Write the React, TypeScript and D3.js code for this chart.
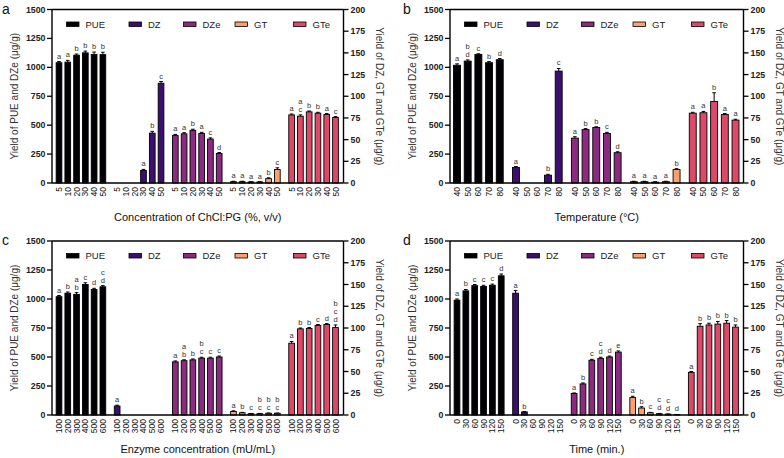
import React from "react";
import * as d3 from "d3";

const SERIES = ["PUE", "DZ", "DZe", "GT", "GTe"];
const COLORS = ["#000004", "#3b0f70", "#8c2981", "#fe9f6d", "#de4968"];
// which axis each series uses: left (PUE, DZe) or right (DZ, GT, GTe)
const AXIS = ["L", "R", "L", "R", "R"];

const leftTicks = [0, 250, 500, 750, 1000, 1250, 1500];
const rightTicks = [0, 25, 50, 75, 100, 125, 150, 175, 200];

// Panel a
const catsA = ["5", "10", "20", "30", "40", "50"];
const pueA = [1040, 1045, 1105, 1125, 1112, 1110];
const pueErrA = [10, 15, 10, 15, 20, 20];
const dzA = [0, 0, 0, 14.5, 57.5, 115];
const dzErrA = [0, 0, 0, 1.2, 2, 2];
const dzeA = [410, 425, 455, 428, 380, 255];
const dzeErrA = [10, 10, 10, 10, 10, 8];
const gtA = [1.5, 1.5, 1.2, 1.2, 5, 15.5];
const gtErrA = [0.5, 0.5, 0.3, 0.3, 1, 2];
const gteA = [78.5, 77, 82, 80.5, 79, 75.5];
const gteErrA = [1, 1.5, 1, 1, 1, 1];
const pueLetA = ["a", "a", "b", "b", "b", "b"];
const dzLetA = ["", "", "", "a", "b", "c"];
const dzeLetA = ["a", "a", "b", "a", "c", "d"];
const gtLetA = ["a", "a", "a", "a", "b", "c"];
const gteLetA = ["a", "ac", "b", "b", "a", "c"];

// Panel b
const catsB = ["40", "50", "60", "70", "80"];
const pueB = [1018, 1054, 1112, 1040, 1066];
const pueErrB = [12, 10, 5, 10, 10];
const dzB = [18, 0, 0, 9, 129];
const dzErrB = [1, 0, 0, 1, 3];
const dzeB = [388, 462, 480, 428, 262];
const dzeErrB = [12, 8, 6, 10, 8];
const gtB = [1.5, 1.5, 1, 1.5, 15.5];
const gtErrB = [0.5, 0.5, 0.5, 0.5, 1];
const gteB = [80.5, 81, 94, 79, 72.5];
const gteErrB = [1, 1.5, 10, 1, 1];
const pueLetB = ["a", "bd", "c", "b", "d"];
const dzLetB = ["a", "", "", "b", "c"];
const dzeLetB = ["a", "b", "b", "c", "d"];
const gtLetB = ["a", "a", "a", "a", "b"];
const gteLetB = ["a", "a", "b", "a", "a"];

// Panel c
const catsC = ["100", "200", "300", "400", "500", "600"];
const pueC = [1020, 1050, 1040, 1125, 1082, 1105];
const pueErrC = [10, 10, 15, 15, 10, 10];
const dzC = [10.3, 0, 0, 0, 0, 0];
const dzErrC = [1, 0, 0, 0, 0, 0];
const dzeC = [458, 468, 475, 490, 490, 500];
const dzeErrC = [8, 8, 8, 8, 8, 8];
const gtC = [4, 2.5, 1.5, 1.5, 2, 2];
const gtErrC = [0.8, 0.5, 0.3, 0.3, 0.3, 0.3];
const gteC = [82.5, 99, 99.5, 103, 104, 100.5];
const gteErrC = [2, 1, 1, 1, 1, 3];
const pueLetC = ["a", "b", "ab", "c", "d", "cd"];
const dzLetC = ["a", "", "", "", "", ""];
const dzeLetC = ["a", "ab", "b", "bc", "c", "c"];
const gtLetC = ["a", "b", "c", "bc", "bc", "bc"];
const gteLetC = ["a", "b", "b", "c", "d", "bcd"];

// Panel d
const catsD = ["0", "30", "60", "90", "120", "150"];
const pueD = [990, 1070, 1115, 1108, 1118, 1200];
const pueErrD = [10, 12, 10, 10, 10, 15];
const dzD = [140, 3.5, 0, 0, 0, 0];
const dzErrD = [3, 0.5, 0, 0, 0, 0];
const dzeD = [185, 268, 472, 488, 500, 542];
const dzeErrD = [5, 8, 8, 10, 8, 10];
const gtD = [20, 8, 2.5, 1.5, 1, 0.5];
const gtErrD = [1.5, 1.5, 0.5, 0.3, 0.2, 0.1];
const gteD = [49, 102, 103.5, 104.5, 105.5, 101];
const gteErrD = [1, 3, 2, 3, 3, 2.5];
const pueLetD = ["a", "b", "c", "c", "c", "d"];
const dzLetD = ["a", "b", "", "", "", ""];
const dzeLetD = ["a", "b", "c", "cd", "d", "e"];
const gtLetD = ["a", "b", "c", "cd", "cd", "d"];
const gteLetD = ["a", "b", "b", "b", "b", "b"];

const FONT = "'Liberation Sans', Arial, Helvetica, sans-serif";

type PanelProps = {
  label: string;
  xTitle: string;
  L: number;
  R: number;
  top: number;
  bottom: number;
  cats: string[];
  values: number[][];
  errors: number[][];
  letters: string[][];
};

const LEGEND_OFF = [14.5, 77, 131.5, 183, 241.5];

function Panel(p: PanelProps) {
  const { L, R, top, bottom, cats } = p;
  const yL = d3.scaleLinear().domain([0, 1500]).range([bottom, top]);
  const yR = d3.scaleLinear().domain([0, 200]).range([bottom, top]);
  const n = cats.length;
  const first = L + 7;
  const last = R - 8;
  const gap = 5.5;
  const s = (last - first - 4 * gap) / (5 * n - 1);
  const groupX = d3
    .scaleBand<string>()
    .domain(SERIES)
    .range([first - s / 2, last + s / 2])
    .paddingInner(gap / (n * s + gap))
    .paddingOuter(0);
  const inner = d3.scaleBand<string>().domain(cats).range([0, groupX.bandwidth()]);
  const bw = s * 0.65;
  const mid = (top + bottom) / 2;

  const bars: React.ReactNode[] = [];
  const labels: React.ReactNode[] = [];
  SERIES.forEach((ser, si) => {
    const y = AXIS[si] === "L" ? yL : yR;
    cats.forEach((c, ci) => {
      const cx = (groupX(ser) as number) + (inner(c) as number) + inner.bandwidth() / 2;
      const v = p.values[si][ci];
      const e = p.errors[si][ci];
      const yt = y(v);
      const ye = y(v + e);
      if (v > 0) {
        bars.push(
          <rect
            key={`b${si}-${ci}`}
            x={cx - bw / 2}
            y={yt}
            width={bw}
            height={bottom - yt}
            fill={COLORS[si]}
            stroke="#000"
            strokeWidth={0.9}
          />
        );
        if (e > 0) {
          bars.push(
            <g key={`e${si}-${ci}`} stroke="#000" strokeWidth={1}>
              <line x1={cx} x2={cx} y1={yt} y2={ye} />
              <line x1={cx - 1.8} x2={cx + 1.8} y1={ye} y2={ye} />
            </g>
          );
        }
      }
      const let_ = p.letters[si][ci];
      if (let_) {
        const chars = let_.split("");
        chars.forEach((ch, k) => {
          const yy = Math.min(ye, yt) - 3 - (chars.length - 1 - k) * 8;
          labels.push(
            <text
              key={`l${si}-${ci}-${k}`}
              x={cx}
              y={yy}
              textAnchor="middle"
              fontSize={7.5}
              fill="#333"
            >
              {ch}
            </text>
          );
        });
      }
      labels.push(
        <text
          key={`x${si}-${ci}`}
          transform={`translate(${cx},${bottom + 4}) rotate(-90)`}
          textAnchor="end"
          dominantBaseline="central"
          fontSize={8.5}
          fill="#111"
        >
          {c}
        </text>
      );
    });
  });

  return (
    <g fontFamily={FONT}>
      {bars}
      {labels}
      <g stroke="#000" strokeWidth={1.4} fill="none">
        <line x1={L} x2={R} y1={top} y2={top} />
        <line x1={L} x2={R} y1={bottom} y2={bottom} />
        <line x1={L} x2={L} y1={top} y2={bottom} />
        <line x1={R} x2={R} y1={top} y2={bottom} />
      </g>
      {leftTicks.map((t) => (
        <g key={`lt${t}`}>
          <line x1={L - 5} x2={L} y1={yL(t)} y2={yL(t)} stroke="#000" strokeWidth={1.3} />
          <text
            x={L - 6.5}
            y={yL(t)}
            textAnchor="end"
            dominantBaseline="central"
            fontSize={8.8}
            fontWeight="bold"
            fill="#222"
          >
            {t}
          </text>
        </g>
      ))}
      {rightTicks.map((t) => (
        <g key={`rt${t}`}>
          <line x1={R} x2={R + 5} y1={yR(t)} y2={yR(t)} stroke="#000" strokeWidth={1.3} />
          <text
            x={R + 7}
            y={yR(t)}
            textAnchor="start"
            dominantBaseline="central"
            fontSize={8.8}
            fontWeight="bold"
            fill="#222"
          >
            {t}
          </text>
        </g>
      ))}
      {SERIES.map((ser, si) => (
        <g key={`lg${si}`}>
          <rect
            x={L + LEGEND_OFF[si]}
            y={top + 12.5}
            width={12.5}
            height={4.5}
            fill={COLORS[si]}
            stroke="#000"
            strokeWidth={0.8}
          />
          <text
            x={L + LEGEND_OFF[si] + 19}
            y={top + 14.8}
            dominantBaseline="central"
            fontSize={9.5}
            fill="#222"
          >
            {ser}
          </text>
        </g>
      ))}
      <text
        transform={`translate(${L - 38},${mid}) rotate(-90)`}
        textAnchor="middle"
        dominantBaseline="central"
        fontSize={10}
        fill="#333"
      >
        Yield of PUE and DZe (μg/g)
      </text>
      <text
        transform={`translate(${R + 36},${mid}) rotate(90)`}
        textAnchor="middle"
        dominantBaseline="central"
        fontSize={10}
        fill="#333"
      >
        Yield of DZ, GT and GTe (μg/g)
      </text>
      <text x={(L + R) / 2} y={bottom + 37.5} textAnchor="middle" fontSize={11} fill="#111">
        {p.xTitle}
      </text>
    </g>
  );
}

export default function App() {
  return (
    <svg
      width={784}
      height={458}
      style={{ position: "absolute", left: 0, top: 0, background: "#fff" }}
    >
      <rect width={784} height={458} fill="#fff" />
      <Panel
        label="a"
        xTitle="Concentration of ChCl:PG (%, v/v)"
        L={52}
        R={343.5}
        top={9.5}
        bottom={183}
        cats={catsA}
        values={[pueA, dzA, dzeA, gtA, gteA]}
        errors={[pueErrA, dzErrA, dzeErrA, gtErrA, gteErrA]}
        letters={[pueLetA, dzLetA, dzeLetA, gtLetA, gteLetA]}
      />
      <Panel
        label="b"
        xTitle="Temperature (°C)"
        L={450}
        R={743.5}
        top={9.5}
        bottom={183}
        cats={catsB}
        values={[pueB, dzB, dzeB, gtB, gteB]}
        errors={[pueErrB, dzErrB, dzeErrB, gtErrB, gteErrB]}
        letters={[pueLetB, dzLetB, dzeLetB, gtLetB, gteLetB]}
      />
      <Panel
        label="c"
        xTitle="Enzyme concentration (mU/mL)"
        L={52}
        R={343.5}
        top={241}
        bottom={415}
        cats={catsC}
        values={[pueC, dzC, dzeC, gtC, gteC]}
        errors={[pueErrC, dzErrC, dzeErrC, gtErrC, gteErrC]}
        letters={[pueLetC, dzLetC, dzeLetC, gtLetC, gteLetC]}
      />
      <Panel
        label="d"
        xTitle="Time (min.)"
        L={450}
        R={743.5}
        top={241}
        bottom={415}
        cats={catsD}
        values={[pueD, dzD, dzeD, gtD, gteD]}
        errors={[pueErrD, dzErrD, dzeErrD, gtErrD, gteErrD]}
        letters={[pueLetD, dzLetD, dzeLetD, gtLetD, gteLetD]}
      />
      <g fontFamily={FONT} fontSize={14} fill="#111">
        <text x={2} y={14}>a</text>
        <text x={403} y={14}>b</text>
        <text x={2} y={245}>c</text>
        <text x={403} y={245}>d</text>
      </g>
    </svg>
  );
}
